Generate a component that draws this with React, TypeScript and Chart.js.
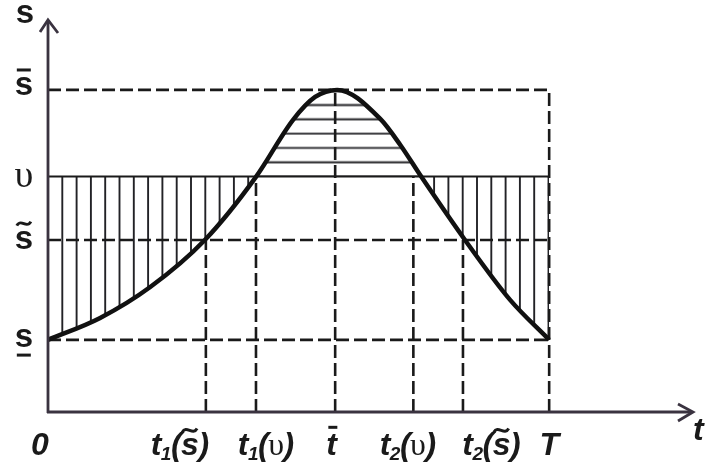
import React, { useEffect, useRef } from 'react';
import { Chart, registerables } from 'chart.js';

Chart.register(...registerables);

// ---------- data ----------
// curve s(t)
const curveT = [0, 1.04, 2.04, 3.13, 4.15, 4.89, 5.33, 5.77, 6.63, 7.03, 7.45, 8.32, 9.22, 10];
const curveS = [2.24, 2.92, 3.88, 5.34, 7.3, 9.07, 9.78, 10.0, 9.1, 8.29, 7.3, 5.34, 3.48, 2.24];

// levels on the s axis
const sMin = 2.24;
const sTilde = 5.34;
const upsilon = 7.31;
const sBar = 10;

// marks on the t axis
const tEnd = 10;
const guideT = [3.15, 4.15, 5.73, 7.29, 8.28, 10];
const guideTop = [sTilde, upsilon, sBar, upsilon, sTilde, sBar];
const dashedLevels = [sBar, sTilde, sMin];

// tick labels
const xTickValues = [0, 3.15, 4.15, 5.73, 7.29, 8.28, 10];
const xTickLabels = ['0', 't₁(s̃)', 't₁(υ)', 't̄', 't₂(υ)', 't₂(s̃)', 'T'];
const yTickValues = [sMin, sTilde, upsilon, sBar];
const yTickLabels = ['s̲', 's̃', 'υ', 's̄'];
const yAxisTitle = 's';
const xAxisTitle = 't';

const axisMaxT = 12.87;
const axisMaxS = 12.17;

// ---------- styles ----------
const INK = '#1a1a1a';
const AXIS = '#3a3340';
const HATCH = '#222226';
const HATCH_STEP = 14.3;
const DASH = [13, 5];
const xLabelDx = [-8, -26, 10, -3.5, -5.5, 28.5, 0];
const yLabelDy = [7, 9.5, 10.5, 5];

const SUB: Record<string, string> = { '₁': '1', '₂': '2' };
const ACC: Record<string, string> = { '\u0303': 'tilde', '\u0304': 'bar', '\u0332': 'under' };

type Fonts = { main: string; sub: string; greek: string; size: number; subDy: number; kern: number };

const xFonts: Fonts = {
  main: 'italic bold 32px "Liberation Sans"',
  sub: 'italic bold 19px "Liberation Sans"',
  greek: '32px "Liberation Serif"',
  size: 32,
  subDy: 5,
  kern: -0.5,
};
const yFonts: Fonts = {
  main: 'bold 33px "Liberation Sans"',
  sub: 'bold 19px "Liberation Sans"',
  greek: '38px "Liberation Serif"',
  size: 33,
  subDy: 5,
  kern: 0,
};

function parseLabel(str: string) {
  const units: { text: string; kind: 'main' | 'sub' | 'greek'; accent?: string }[] = [];
  for (const c of Array.from(str)) {
    if (ACC[c]) {
      if (units.length) units[units.length - 1].accent = ACC[c];
      continue;
    }
    if (SUB[c]) units.push({ text: SUB[c], kind: 'sub' });
    else if (c === 'υ') units.push({ text: c, kind: 'greek' });
    else units.push({ text: c, kind: 'main' });
  }
  return units;
}

function drawLabel(ctx: CanvasRenderingContext2D, str: string, x: number, y: number, align: string, f: Fonts) {
  const units = parseLabel(str);
  let total = 0;
  const ms = units.map((u) => {
    ctx.font = (f as any)[u.kind];
    const m = ctx.measureText(u.text);
    total += m.width + f.kern;
    return m;
  });
  total -= f.kern;
  let cx = align === 'center' ? x - total / 2 : align === 'right' ? x - total : x;
  ctx.fillStyle = INK;
  ctx.strokeStyle = INK;
  ctx.textBaseline = 'alphabetic';
  ctx.textAlign = 'left';
  units.forEach((u, i) => {
    const m = ms[i];
    ctx.font = (f as any)[u.kind];
    const dy = u.kind === 'sub' ? f.subDy : 0;
    ctx.fillText(u.text, cx, y + dy);
    if (u.accent) {
      const l = cx - m.actualBoundingBoxLeft + 1;
      const r = cx + m.actualBoundingBoxRight - 1;
      const top = y + dy - m.actualBoundingBoxAscent;
      const w = r - l;
      ctx.save();
      ctx.lineCap = 'butt';
      if (u.accent === 'tilde') {
        const yc = top - 0.3 * f.size + 2;
        ctx.lineWidth = 3;
        ctx.beginPath();
        ctx.moveTo(l, yc + 2);
        ctx.bezierCurveTo(l + w * 0.3, yc - 6, l + w * 0.7, yc + 6, r, yc - 2);
        ctx.stroke();
      } else if (u.accent === 'bar') {
        const yb = top - 0.24 * f.size + 1;
        ctx.lineWidth = 3;
        ctx.beginPath();
        ctx.moveTo(l, yb);
        ctx.lineTo(r, yb);
        ctx.stroke();
      } else if (u.accent === 'under') {
        const yb = y + 0.25 * f.size;
        ctx.lineWidth = 3;
        ctx.beginPath();
        ctx.moveTo(l, yb);
        ctx.lineTo(r, yb);
        ctx.stroke();
      }
      ctx.restore();
    }
    cx += m.width + f.kern;
  });
}

function makePattern(ctx: CanvasRenderingContext2D, vertical: boolean) {
  const n = 10;
  const size = Math.round(HATCH_STEP * n);
  const c = document.createElement('canvas');
  c.width = size;
  c.height = size;
  const g = c.getContext('2d')!;
  g.strokeStyle = HATCH;
  g.lineWidth = 1.9;
  for (let i = 0; i < n; i++) {
    const p = (i * size) / n + 1;
    g.beginPath();
    if (vertical) {
      g.moveTo(p, 0);
      g.lineTo(p, size);
    } else {
      g.moveTo(0, p);
      g.lineTo(size, p);
    }
    g.stroke();
  }
  return ctx.createPattern(c, 'repeat')!;
}

export default function App() {
  const ref = useRef<HTMLCanvasElement>(null);

  useEffect(() => {
    const canvas = ref.current!;
    const ctx = canvas.getContext('2d')!;
    const vPat = makePattern(ctx, true);
    const hPat = makePattern(ctx, false);

    const seg = (x1: number, y1: number, x2: number, y2: number, dashed: boolean, width: number) => ({
      data: [
        { x: x1, y: y1 },
        { x: x2, y: y2 },
      ],
      borderColor: INK,
      borderWidth: width,
      borderDash: dashed ? DASH : [],
      pointRadius: 0,
      fill: false,
      clip: false as any,
      tension: 0,
    });

    const datasets: any[] = [
      {
        data: curveT.map((t, i) => ({ x: t, y: curveS[i] })),
        borderColor: '#111',
        borderWidth: 4.5,
        pointRadius: 0,
        cubicInterpolationMode: 'monotone',
        clip: false,
        fill: { target: { value: upsilon }, above: hPat, below: vPat },
      },
      seg(0, upsilon, tEnd, upsilon, false, 2),
      ...dashedLevels.map((s) => seg(0, s, tEnd, s, true, 2.6)),
      ...guideT.map((t, i) => seg(t, 0, t, guideTop[i], true, 2.6)),
    ];

    const decor = {
      id: 'decor',
      beforeDraw(chart: any) {
        const xs = chart.scales.x;
        const ys = chart.scales.y;
        const x0 = xs.getPixelForValue(0);
        const yU = ys.getPixelForValue(upsilon);
        vPat.setTransform(new DOMMatrix([1, 0, 0, 1, x0 - 1, 0]));
        hPat.setTransform(new DOMMatrix([1, 0, 0, 1, 0, yU - 1]));
      },
      afterDatasetsDraw(chart: any) {
        const c: CanvasRenderingContext2D = chart.ctx;
        const xs = chart.scales.x;
        const ys = chart.scales.y;
        const x0 = xs.getPixelForValue(0);
        const y0 = ys.getPixelForValue(0);
        const xR = xs.getPixelForValue(axisMaxT);
        const yT = ys.getPixelForValue(axisMaxS);
        c.save();
        c.strokeStyle = AXIS;
        c.lineWidth = 2.8;
        c.lineCap = 'butt';
        c.lineJoin = 'miter';
        c.beginPath();
        c.moveTo(x0, y0 + 1);
        c.lineTo(x0, yT + 1);
        c.moveTo(x0 - 1, y0);
        c.lineTo(xR - 1, y0);
        c.stroke();
        // arrows
        c.beginPath();
        c.moveTo(x0 - 8, yT + 12);
        c.lineTo(x0, yT);
        c.lineTo(x0 + 10, yT + 13);
        c.moveTo(xR - 15, y0 - 8);
        c.lineTo(xR, y0);
        c.lineTo(xR - 15, y0 + 9);
        c.stroke();
        // x labels
        xTickValues.forEach((v, i) => {
          drawLabel(c, xTickLabels[i], xs.getPixelForValue(v) + xLabelDx[i], y0 + 43, 'center', xFonts);
        });
        // y labels
        yTickValues.forEach((v, i) => {
          drawLabel(c, yTickLabels[i], x0 - 24, ys.getPixelForValue(v) + yLabelDy[i], 'center', yFonts);
        });
        drawLabel(c, yAxisTitle, x0 - 23, yT + 3, 'center', yFonts);
        drawLabel(c, xAxisTitle, xR, y0 + 28, 'left', xFonts);
        c.restore();
      },
    };

    const chart = new Chart(canvas, {
      type: 'line',
      data: { datasets },
      options: {
        animation: false,
        responsive: false,
        events: [],
        layout: { padding: { left: 48, top: 20, right: 15, bottom: 60 } },
        scales: {
          x: { type: 'linear', min: 0, max: axisMaxT, display: false },
          y: { type: 'linear', min: 0, max: axisMaxS, display: false },
        },
        plugins: {
          legend: { display: false },
          tooltip: { enabled: false },
          filler: { drawTime: 'beforeDatasetsDraw' } as any,
        },
      },
      plugins: [decor],
    });
    return () => chart.destroy();
  }, []);

  return (
    <div style={{ position: 'fixed', left: 0, top: 0, width: 708, height: 472, background: '#fff' }}>
      <canvas ref={ref} width={708} height={472} style={{ width: 708, height: 472, display: 'block' }} />
    </div>
  );
}
